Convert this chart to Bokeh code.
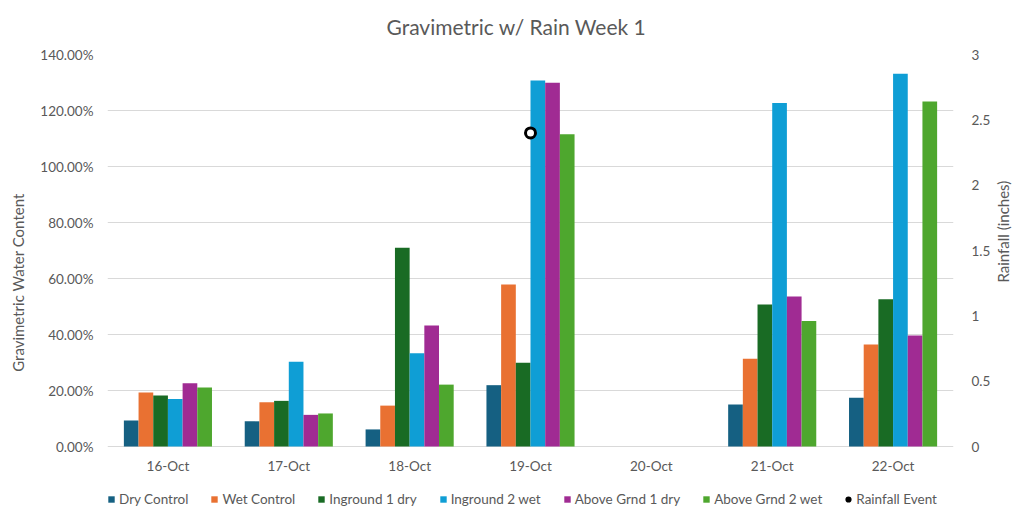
import math
from bokeh.plotting import figure
from bokeh.models import (FactorRange, Range1d, LinearAxis, FixedTicker, PrintfTickFormatter,
                          CustomJSTickFormatter, Legend, LegendItem, ColumnDataSource)
from bokeh.core.properties import value
from bokeh.transform import dodge
from bokeh.embed import file_html
from bokeh.resources import INLINE

nan = float("nan")
dates = ["16-Oct", "17-Oct", "18-Oct", "19-Oct", "20-Oct", "21-Oct", "22-Oct"]
series_names = ["Dry Control", "Wet Control", "Inground 1 dry", "Inground 2 wet",
                "Above Grnd 1 dry", "Above Grnd 2 wet"]
dry_control = [9.3, 9.0, 6.1, 21.9, nan, 15.0, 17.4]
wet_control = [19.3, 15.8, 14.6, 57.9, nan, 31.3, 36.4]
inground_1_dry = [18.2, 16.3, 71.0, 29.9, nan, 50.7, 52.6]
inground_2_wet = [17.0, 30.3, 33.3, 130.7, nan, 122.7, 133.1]
above_grnd_1_dry = [22.6, 11.3, 43.2, 129.9, nan, 53.6, 39.6]
above_grnd_2_wet = [21.1, 11.8, 22.1, 111.5, nan, 44.8, 123.2]
rain_dates = ["19-Oct"]
rainfall = [2.4]
pct_ticks = [0, 20, 40, 60, 80, 100, 120, 140]
rain_ticks = [0, 0.5, 1, 1.5, 2, 2.5, 3]

colors = ["#156082", "#E97132", "#196B24", "#0F9ED5", "#A02B93", "#4EA72E"]
FONT = "Lato"
GRAY = "#595959"

# layout: 140% band is 392 px tall; the frame extends 64 px below zero for labels/legend
PLOT_PX = 392
BELOW_PX = 64
px_per_unit = PLOT_PX / 140.0
y_start = -BELOW_PX / px_per_unit
rain_start = y_start * 3 / 140.0

data = dict(date=dates, s0=dry_control, s1=wet_control, s2=inground_1_dry,
            s3=inground_2_wet, s4=above_grnd_1_dry, s5=above_grnd_2_wet)
src = ColumnDataSource(data)

p = figure(x_range=FactorRange(*dates), y_range=Range1d(y_start, 140),
           frame_width=846, frame_height=PLOT_PX + BELOW_PX, output_backend="svg",
           toolbar_location=None,
           min_border_left=107, min_border_right=60, min_border_top=54, min_border_bottom=0,
           title="Gravimetric w/ Rain Week 1")
p.outline_line_color = None
p.background_fill_color = "white"
p.border_fill_color = "white"

p.title.text_font = FONT
p.title.text_font_size = "21px"
p.title.text_font_style = "normal"
p.title.text_color = GRAY
p.title.align = "left"
p.title.offset = 279
p.title.vertical_align = "top"
p.title.standoff = 27

p.extra_y_ranges = {"rain": Range1d(rain_start, 3)}

bw = 0.1215
renderers = []
for i in range(6):
    r = p.vbar(x=dodge("date", (i - 2.5) * bw, range=p.x_range), top="s%d" % i, width=bw,
               source=src, fill_color=colors[i], line_color=None)
    renderers.append(r)

rs = p.scatter(x=rain_dates, y=rainfall, y_range_name="rain", size=10, marker="circle",
               fill_color="white", line_color="black", line_width=3)

# category labels below the zero line
label_y = -19 / px_per_unit
p.text(x=dates, y=[label_y] * len(dates), text=dates, text_align="center",
       text_baseline="middle", text_font=value(FONT), text_font_size="13.5px",
       text_color=GRAY)

ya = p.yaxis[0]
ya.ticker = FixedTicker(ticks=pct_ticks)
ya.formatter = PrintfTickFormatter(format="%.2f%%")
ya.axis_label = "Gravimetric Water Content"
ya.bounds = (0, 140)

ra = LinearAxis(y_range_name="rain", axis_label="Rainfall (inches)")
ra.ticker = FixedTicker(ticks=rain_ticks)
ra.formatter = CustomJSTickFormatter(code="return String(tick);")
ra.axis_label_orientation = math.pi / 2
ra.bounds = (0, 3)
p.add_layout(ra, "right")

for ax in [ya, ra]:
    ax.axis_line_color = None
    ax.major_tick_line_color = None
    ax.minor_tick_line_color = None
    ax.major_label_text_font = FONT
    ax.major_label_text_font_size = "13.5px"
    ax.major_label_text_color = GRAY
    ax.axis_label_text_font = FONT
    ax.axis_label_text_font_size = "15px"
    ax.axis_label_text_font_style = "normal"
    ax.axis_label_text_color = GRAY
ya.major_label_standoff = 8
ya.axis_label_standoff = 10
ra.major_label_standoff = 12
ra.axis_label_standoff = 10

p.xaxis.visible = False

p.xgrid.grid_line_color = None
p.ygrid.grid_line_color = "#d9d9d9"
p.ygrid.ticker = FixedTicker(ticks=pct_ticks)

items = [LegendItem(label=series_names[i], renderers=[renderers[i]]) for i in range(6)]
items.append(LegendItem(label="Rainfall Event", renderers=[rs]))
legend = Legend(items=items, orientation="horizontal", location=(0, 3),
                glyph_width=8, glyph_height=8, label_standoff=4, spacing=22, label_height=14,
                label_text_font=FONT, label_text_font_size="13.5px", label_text_color=GRAY,
                border_line_color=None, background_fill_alpha=0, padding=0, margin=0)
p.add_layout(legend, "center")

open("out.html", "w").write(file_html(p, INLINE))
